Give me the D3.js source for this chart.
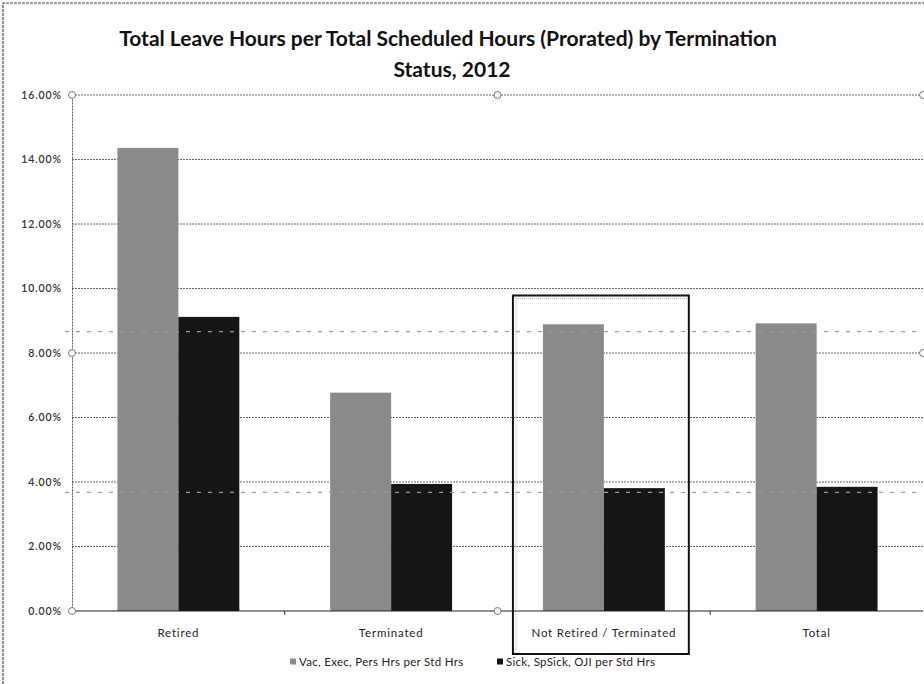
<!DOCTYPE html>
<html>
<head>
<meta charset="utf-8">
<script src="https://cdn.jsdelivr.net/npm/d3@7"></script>
<style>
  html, body { margin: 0; padding: 0; background: #fff; }
  svg { display: block; }
</style>
</head>
<body>
<svg id="chart" width="924" height="684"></svg>
<script>
// Leave-hour ratios by termination status, 2012
const categories = ["Retired", "Terminated", "Not Retired / Terminated", "Total"];
const seriesNames = ["Vac, Exec, Pers Hrs per Std Hrs", "Sick, SpSick, OJI per Std Hrs"];
const vacValues = [0.1436, 0.0677, 0.0889, 0.0892];
const sickValues = [0.0912, 0.0394, 0.0381, 0.0385];
const yTicks = [0, 0.02, 0.04, 0.06, 0.08, 0.10, 0.12, 0.14, 0.16];
const referenceLines = [0.0866, 0.0368];
const highlighted = "Not Retired / Terminated";

const svg = d3.select("#chart");
const W = 924, H = 684;
const plot = { left: 72, right: 923, top: 95, bottom: 611 };
const font = "Lato, 'Open Sans', sans-serif";

const x = d3.scaleBand()
  .domain(categories)
  .range([plot.left, plot.right])
  .paddingInner(0.427)
  .paddingOuter(0.2135);
const xs = d3.scaleBand().domain(seriesNames).range([0, x.bandwidth()]);
const y = d3.scaleLinear().domain([0, 0.16]).range([plot.bottom, plot.top]);
const colors = d3.scaleOrdinal().domain(seriesNames).range(["#8a8a8a", "#151515"]);

// chart frame (top and left edges)
svg.append("path")
  .attr("d", `M3,${H} L3,3 L${W},3`)
  .attr("fill", "none").attr("stroke", "#444").attr("stroke-width", 1.2)
  .attr("stroke-dasharray", "3,1");

// title
const title = svg.append("text")
  .attr("text-anchor", "middle")
  .attr("font-family", font).attr("font-weight", "bold")
  .attr("font-size", 21).attr("fill", "#111");
title.append("tspan").attr("x", 448).attr("y", 46)
  .text("Total Leave Hours per Total Scheduled Hours (Prorated) by Termination");
title.append("tspan").attr("x", 452).attr("y", 77).text("Status, 2012");

// gridlines
svg.append("g").selectAll("line")
  .data(yTicks.slice(1))
  .join("line")
  .attr("x1", plot.left).attr("x2", plot.right)
  .attr("y1", d => y(d)).attr("y2", d => y(d))
  .attr("stroke", "#666").attr("stroke-width", 1)
  .attr("stroke-dasharray", "2,1");

// y axis
const yAxis = svg.append("g")
  .attr("transform", `translate(${plot.left},0)`)
  .call(d3.axisLeft(y).tickValues(yTicks).tickFormat(d3.format(".2%")).tickSize(0).tickPadding(10));
yAxis.select(".domain").attr("stroke", "#555").attr("stroke-dasharray", "2,1");
yAxis.selectAll("text")
  .attr("font-family", font).attr("font-size", 10.5).attr("letter-spacing", 0.9)
  .attr("font-weight", 600).attr("fill", "#333");

// bars
const groups = svg.append("g").selectAll("g")
  .data(categories.map((c, i) => ({ cat: c, vals: [vacValues[i], sickValues[i]] })))
  .join("g")
  .attr("transform", d => `translate(${x(d.cat)},0)`);
groups.selectAll("rect")
  .data(d => d.vals.map((v, j) => ({ key: seriesNames[j], v })))
  .join("rect")
  .attr("x", d => xs(d.key))
  .attr("width", xs.bandwidth())
  .attr("y", d => y(d.v))
  .attr("height", d => y(0) - y(d.v))
  .attr("fill", d => colors(d.key));

// dashed reference lines
svg.append("g").selectAll("line")
  .data(referenceLines)
  .join("line")
  .attr("x1", plot.left - 7).attr("x2", plot.right)
  .attr("y1", d => y(d)).attr("y2", d => y(d))
  .attr("stroke", "#9a9a9a").attr("stroke-width", 1.2)
  .attr("stroke-dasharray", "4,7");

// x axis
const step = x.step();
const xAxis = svg.append("g")
  .attr("transform", `translate(0,${y(0)})`);
xAxis.append("line")
  .attr("x1", plot.left).attr("x2", plot.right)
  .attr("stroke", "#222").attr("stroke-width", 1.2);
xAxis.selectAll(".tick")
  .data(d3.range(1, categories.length))
  .join("line")
  .attr("x1", i => plot.left + i * step).attr("x2", i => plot.left + i * step)
  .attr("y1", 0).attr("y2", 4)
  .attr("stroke", "#333");
xAxis.selectAll("text")
  .data(categories)
  .join("text")
  .attr("x", d => x(d) + x.bandwidth() / 2)
  .attr("y", 26)
  .attr("text-anchor", "middle")
  .attr("font-family", font).attr("font-size", 11.5).attr("letter-spacing", 0.8)
  .attr("fill", "#222")
  .text(d => d);

// selection handles around the plot area
const hx = [plot.left, (plot.left + plot.right) / 2, plot.right];
const hy = [y(0.16), y(0.08), y(0)];
const handles = [];
hy.forEach((yy, r) => hx.forEach((xx, c) => {
  if (r === 1 && c === 1) return;
  if (r === 2 && c === 2) return;
  handles.push([xx, yy]);
}));
svg.append("g").selectAll("circle")
  .data(handles)
  .join("circle")
  .attr("cx", d => d[0]).attr("cy", d => d[1]).attr("r", 3.5)
  .attr("fill", "#fff").attr("stroke", "#777").attr("stroke-width", 1);

// highlight box around one category
const hb = { x: x(highlighted) - 30, y: y(0.1) + 7, w: x.bandwidth() + 54 };
svg.append("rect")
  .attr("x", hb.x + 3).attr("y", hb.y + 3)
  .attr("width", hb.w - 3).attr("height", 654 - hb.y - 3)
  .attr("fill", "none").attr("stroke", "#aaa").attr("stroke-width", 1)
  .attr("stroke-dasharray", "1,1");
svg.append("rect")
  .attr("x", hb.x).attr("y", hb.y)
  .attr("width", hb.w).attr("height", 654 - hb.y)
  .attr("fill", "none").attr("stroke", "#111").attr("stroke-width", 2);

// legend
const legendX = [290, 497];
const legend = svg.append("g").selectAll("g")
  .data(seriesNames)
  .join("g")
  .attr("transform", (d, i) => `translate(${legendX[i]},662)`);
legend.append("rect")
  .attr("x", 0).attr("y", -3.5).attr("width", 6).attr("height", 6)
  .attr("fill", d => colors(d));
legend.append("text")
  .attr("x", 9).attr("y", 4)
  .attr("font-family", font).attr("font-size", 11.5).attr("letter-spacing", 0.3)
  .attr("fill", "#222")
  .text(d => d);
</script>
</body>
</html>
